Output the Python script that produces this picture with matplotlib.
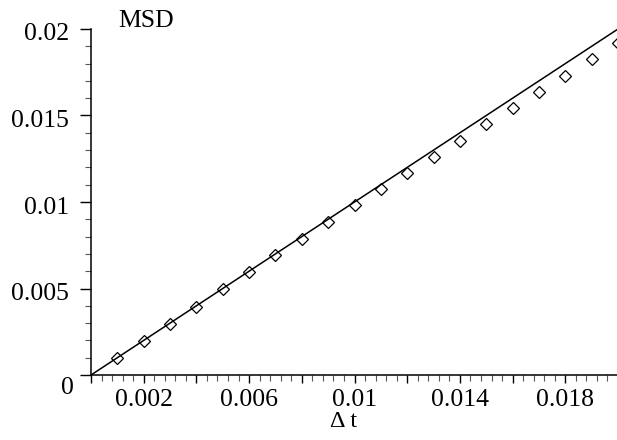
import numpy as np
import matplotlib
matplotlib.use("Agg")
import matplotlib.pyplot as plt
import matplotlib.transforms as mtransforms
from matplotlib.ticker import MultipleLocator

# MSD data points (diamonds)
dt = [0.001, 0.002, 0.003, 0.004, 0.005, 0.006, 0.007, 0.008, 0.009, 0.010,
      0.011, 0.012, 0.013, 0.014, 0.015, 0.016, 0.017, 0.018, 0.019, 0.020]
msd = [0.00097, 0.00197, 0.00295, 0.00393, 0.00497, 0.00595, 0.00694, 0.00786,
       0.00884, 0.00983, 0.01073, 0.01168, 0.01260, 0.01353, 0.01450, 0.01543,
       0.01638, 0.01730, 0.01827, 0.01919]

# reference line MSD = dt
line_x = [0.0, 0.02]
line_y = [0.0, 0.02]

xticks = [0.0, 0.002, 0.004, 0.006, 0.008, 0.01, 0.012, 0.014, 0.016, 0.018, 0.02]
xticklabels = ["", "0.002", "", "0.006", "", "0.01", "", "0.014", "", "0.018", ""]
yticks = [0.0, 0.005, 0.01, 0.015, 0.02]
yticklabels = ["", "0.005", "0.01", "0.015", "0.02"]

plt.rcParams['font.family'] = ['Liberation Serif', 'DejaVu Serif']
fs = 18.5

fig = plt.figure(figsize=(6.17, 4.40), dpi=100)
ax = fig.add_axes([91/617, 65/440, 527/617, 346/440])

ax.plot(line_x, line_y, '-', color='black', linewidth=1.1, clip_on=False)
ax.plot(dt, msd, 'D', markersize=6, markerfacecolor='none',
        markeredgecolor='black', markeredgewidth=0.9, clip_on=False)

ax.set_xlim(0, 0.02)
ax.set_ylim(0, 0.02)

ax.spines['top'].set_visible(False)
ax.spines['right'].set_visible(False)
ax.spines['left'].set_linewidth(1.1)
ax.spines['bottom'].set_linewidth(1.1)

ax.set_xticks(xticks)
ax.set_xticklabels(xticklabels)
ax.set_yticks(yticks)
ax.set_yticklabels(yticklabels)
ax.xaxis.set_minor_locator(MultipleLocator(0.0004))
ax.yaxis.set_minor_locator(MultipleLocator(0.001))

ax.tick_params(axis='both', which='major', labelsize=fs, direction='out',
               color='black', width=1.0)
ax.tick_params(axis='x', which='major', length=6, pad=4)
ax.tick_params(axis='y', which='major', length=8, pad=8)
ax.tick_params(axis='x', which='minor', length=4, width=0.8, color='#555555')
ax.tick_params(axis='y', which='minor', length=4, width=0.8, color='#555555')

# y labels sit a few pixels below their ticks in the reference
shift = mtransforms.ScaledTranslation(0, -3/100, fig.dpi_scale_trans)
for lab in ax.get_yticklabels():
    lab.set_transform(lab.get_transform() + shift)

# origin label sits below-left of the corner
ax.annotate("0", xy=(0, 0), xytext=(-17, -13), textcoords='offset pixels',
            ha='right', va='center', fontsize=fs)

fig.text(344/617, 1 - 421/440, "\u0394 t", ha='center', va='center', fontsize=17.5)
fig.text(146/617, 1 - 21/440, "MSD", ha='center', va='center', fontsize=fs)

fig.savefig("out.png", dpi=100)
